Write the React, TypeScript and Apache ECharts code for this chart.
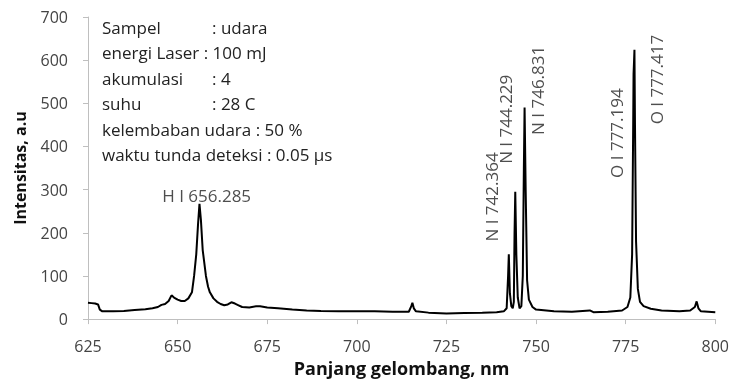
import React, { useEffect, useRef } from "react";
import * as echarts from "echarts";

const wavelengths = [
  625, 626, 627, 627.8, 628.3, 629, 632, 635, 638, 641, 643, 644.5, 645.5, 646.5, 647.5, 648.3, 649, 650, 651, 652, 653, 654,
  654.6, 655.2, 655.7, 656.1, 656.5, 657.0, 657.9, 658.5, 659, 660, 661, 662, 663, 664, 665, 666, 667, 668, 670, 672, 673, 675,
  678, 682, 686, 690, 695, 700, 705, 710, 714.5, 715.2, 715.5, 715.9, 716.5, 720, 725, 730, 735, 739, 741, 741.8, 742.2, 742.4,
  742.7, 743.1, 743.5, 743.8, 744.0, 744.2, 744.5, 744.9, 745.4, 745.9, 746.3, 746.6, 746.8, 747.1, 747.5, 748, 749, 750, 755,
  760, 765, 766, 770, 774, 775.5, 776.3, 776.8, 777.1, 777.2, 777.35, 777.45, 777.6, 777.9, 778.4, 779, 780, 782, 785, 790, 793,
  794.3, 794.8, 795.3, 796, 800,
];
const intensities = [
  38, 37, 36, 34, 22, 18, 18, 19, 21, 23, 25, 28, 33, 35, 42, 55, 50, 45, 42, 42, 48, 62,
  100, 150, 220, 267, 230, 160, 100, 75, 62, 48, 40, 35, 32, 34, 39, 36, 32, 28, 27, 30, 30, 27,
  25, 22, 20, 19, 18, 18, 18, 17, 17, 30, 38, 25, 18, 15, 13, 14, 15, 16, 18, 25, 100, 150,
  60, 30, 25, 40, 200, 295, 150, 50, 25, 30, 100, 350, 490, 300, 90, 45, 28, 22, 18,
  17, 20, 16, 17, 20, 28, 50, 150, 450, 567, 600, 624, 450, 180, 70, 40, 30, 24, 20, 18, 20,
  28, 41, 25, 18, 16,
];

const peakLabels = ["H I 656.285", "N I 742.364", "N I 744.229", "N I 746.831", "O I 777.194", "O I 777.417"];
const peakLabelX = [658.1, 737.5, 741.6, 750.3, 772.5, 783.7];
const peakLabelY = [286, 283, 463, 530, 431, 555];
const peakLabelRotate = [0, 90, 90, 90, 90, 90];

const infoLabels = ["Sampel", "energi Laser : 100 mJ", "akumulasi", "suhu", "kelembaban udara : 50 %", "waktu tunda deteksi : 0.05 µs"];
const infoValues = [": udara", "", ": 4", ": 28 C", "", ""];

const xTicks = { min: 625, max: 800, interval: 25 };
const yTicks = { min: 0, max: 700, interval: 100 };

const FONT = "'Open Sans'";

export default function App() {
  const ref = useRef<HTMLDivElement>(null);
  useEffect(() => {
    if (!ref.current) return;
    const chart = echarts.init(ref.current, null, { renderer: "svg" });
    const lineData = wavelengths.map((w, i) => [w, intensities[i]]);
    const annData = peakLabels.map((t, i) => ({
      value: [peakLabelX[i], peakLabelY[i]],
      label: { show: true, formatter: t, rotate: peakLabelRotate[i], position: "inside" },
    }));
    const graphics: any[] = [];
    infoLabels.forEach((t, i) => {
      const y = 27 + i * 25.5;
      graphics.push({
        type: "text",
        x: 102,
        y,
        style: { text: t, font: `17px ${FONT}`, fill: "#222", textVerticalAlign: "middle" },
      });
      if (infoValues[i]) {
        graphics.push({
          type: "text",
          x: 212,
          y,
          style: { text: infoValues[i], font: `17px ${FONT}`, fill: "#222", textVerticalAlign: "middle" },
        });
      }
    });
    chart.setOption({
      animation: false,
      grid: { left: 88, right: 15, top: 17, bottom: 61, containLabel: false },
      xAxis: {
        type: "value",
        min: xTicks.min,
        max: xTicks.max,
        interval: xTicks.interval,
        name: "Panjang gelombang, nm",
        nameLocation: "middle",
        nameGap: 38,
        nameTextStyle: { fontFamily: FONT, fontSize: 18, fontWeight: "bold", color: "#111" },
        axisLine: { lineStyle: { color: "#BFBFBF", width: 1 } },
        axisTick: { show: true, length: 5, lineStyle: { color: "#BFBFBF" } },
        axisLabel: { fontFamily: FONT, fontSize: 16, color: "#444", margin: 19 },
        splitLine: { show: false },
      },
      yAxis: {
        type: "value",
        min: yTicks.min,
        max: yTicks.max,
        interval: yTicks.interval,
        name: "Intensitas, a.u",
        nameLocation: "middle",
        nameGap: 60,
        nameTextStyle: { fontFamily: FONT, fontSize: 16, fontWeight: "bold", color: "#111" },
        axisLine: { show: true, lineStyle: { color: "#BFBFBF", width: 1 } },
        axisTick: { show: true, length: 5, lineStyle: { color: "#BFBFBF" } },
        axisLabel: { fontFamily: FONT, fontSize: 16, color: "#444", margin: 20 },
        splitLine: { show: false },
      },
      series: [
        {
          type: "line",
          data: lineData,
          showSymbol: false,
          symbol: "none",
          lineStyle: { color: "#000", width: 2 },
          silent: true,
        },
        {
          type: "scatter",
          data: annData,
          symbolSize: 1,
          itemStyle: { color: "rgba(0,0,0,0)" },
          label: { fontFamily: FONT, fontSize: 17, color: "#222" },
          silent: true,
        },
      ],
      graphic: graphics,
    });
    return () => chart.dispose();
  }, []);
  return <div ref={ref} style={{ position: "fixed", left: 0, top: 0, width: 732, height: 382 }} />;
}
